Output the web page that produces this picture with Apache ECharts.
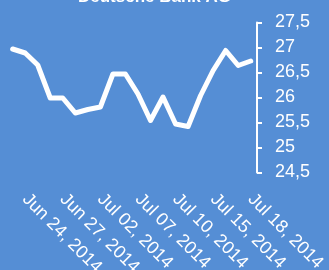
<!DOCTYPE html>
<html>
<head>
<meta charset="utf-8">
<script src="https://cdn.jsdelivr.net/npm/echarts@6/dist/echarts.min.js"></script>
<style>
  html, body { margin: 0; padding: 0; background: #558ED5; }
  #chart { width: 329px; height: 270px; }
</style>
</head>
<body>
<div id="chart"></div>
<script>
const chartTitle = 'Deutsche Bank AG';

const dates = [
    'Jun 23, 2014', 'Jun 24, 2014', 'Jun 25, 2014', 'Jun 26, 2014', 'Jun 27, 2014',
    'Jun 30, 2014', 'Jul 01, 2014', 'Jul 02, 2014', 'Jul 03, 2014', 'Jul 04, 2014',
    'Jul 07, 2014', 'Jul 08, 2014', 'Jul 09, 2014', 'Jul 10, 2014', 'Jul 11, 2014',
    'Jul 14, 2014', 'Jul 15, 2014', 'Jul 16, 2014', 'Jul 17, 2014', 'Jul 18, 2014'
];

const closePrices = [
    26.97, 26.89, 26.65, 25.99, 25.99,
    25.69, 25.76, 25.81, 26.47, 26.47,
    26.07, 25.54, 26.01, 25.47, 25.42,
    26.04, 26.54, 26.94, 26.64, 26.73
];

const yTicks = [24.5, 25, 25.5, 26, 26.5, 27, 27.5];

const chart = echarts.init(document.getElementById('chart'));

chart.setOption({
    backgroundColor: '#558ED5',
    animation: false,
    graphic: [
        {
            // title sits mostly above the top edge in the original
            type: 'text',
            x: 78,
            y: 6,
            z: 10,
            style: {
                text: chartTitle,
                fill: '#ffffff',
                font: 'bold 17px "Liberation Sans"',
                verticalAlign: 'bottom',
                align: 'left'
            }
        }
    ],
    grid: {
        left: 6.4,
        right: 72,
        top: 22.5,
        bottom: 97.5,
        outerBoundsMode: 'none',
        containLabel: false
    },
    xAxis: {
        type: 'category',
        data: dates,
        boundaryGap: true,
        axisLine: { show: false },
        axisTick: { show: false },
        axisLabel: {
            interval: (index) => index % 3 === 1,
            rotate: -45,
            margin: 24,
            color: '#ffffff',
            fontFamily: 'Liberation Sans',
            fontSize: 18
        },
        splitLine: { show: false }
    },
    yAxis: {
        type: 'value',
        position: 'right',
        min: yTicks[0],
        max: yTicks[yTicks.length - 1],
        interval: 0.5,
        axisLine: {
            show: true,
            lineStyle: { color: '#ffffff', width: 2 }
        },
        axisTick: {
            show: true,
            length: 5,
            lineStyle: { color: '#ffffff', width: 2 }
        },
        axisLabel: {
            margin: 18,
            color: '#ffffff',
            fontFamily: 'Liberation Sans',
            fontSize: 18,
            formatter: (value) => String(value).replace('.', ',')
        },
        splitLine: { show: false }
    },
    series: [
        {
            name: chartTitle,
            type: 'line',
            data: closePrices,
            symbol: 'none',
            lineStyle: {
                color: '#ffffff',
                width: 5,
                cap: 'round',
                join: 'round'
            }
        }
    ]
});
</script>
</body>
</html>
